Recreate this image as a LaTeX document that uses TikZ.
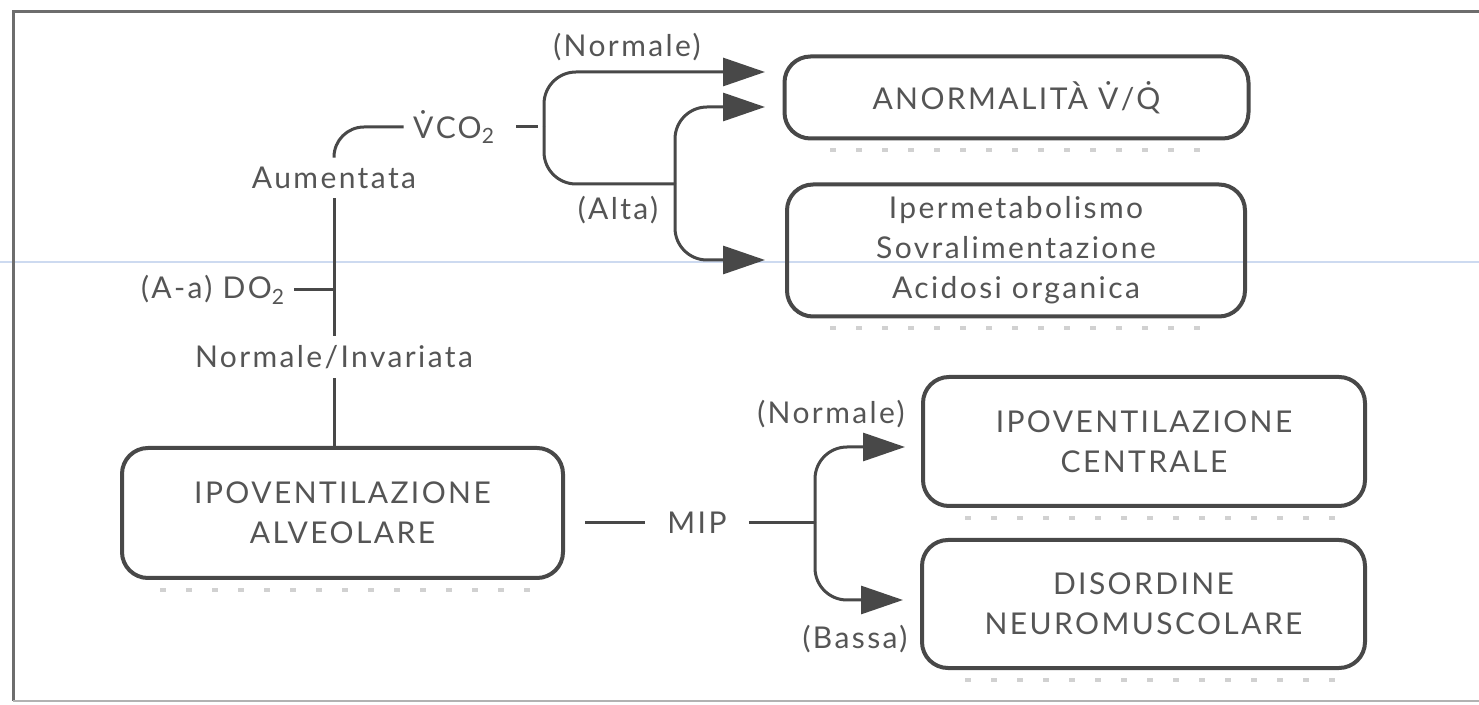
\documentclass[tikz,border=0pt]{standalone}
\usepackage{fontspec}
\setmainfont{Lato}[LetterSpace=8]
\usetikzlibrary{arrows.meta}
\definecolor{ink}{HTML}{484848}
\definecolor{txt}{HTML}{555555}
\definecolor{scan}{RGB}{205,218,240}
\begin{document}
\begin{tikzpicture}[x=0.5pt,y=-0.5pt,
  box/.style={draw=ink, line width=2pt, rounded corners=13pt, align=center,
    font=\fontsize{15}{20}\selectfont, text=txt, inner sep=0pt},
  lbl/.style={text=txt, font=\fontsize{15}{18}\selectfont, inner sep=4.5pt},
  conn/.style={draw=ink, line width=1.5pt},
  arr/.style={conn, rounded corners=16pt, -{Triangle[length=21pt,width=14pt]}},
  frameline/.style={draw=ink!80, line width=1.5pt},
  shadowline/.style={draw=black!18, line width=2pt, dash pattern=on 3pt off 10pt}]
\useasboundingbox (0,0) rectangle (1479,705);
\fill[white] (0,0) rectangle (1479,705);
% scan frame and artefacts
\draw[draw=scan, line width=0.6pt] (0,262) -- (1479,262);
\draw[frameline] (1479,12) -- (13,12) -- (13,701);
\draw[draw=black!30, line width=1pt] (13,701) -- (1479,701);
% shadows below boxes
\draw[shadowline] (830,150) -- (1215,150);
\draw[shadowline] (830,328) -- (1215,328);
\draw[shadowline] (160,590) -- (545,590);
\draw[shadowline] (965,518) -- (1335,518);
\draw[shadowline] (965,680) -- (1335,680);
% boxes
\node[box, minimum width=232pt, minimum height=41pt] (A) at (1016.5,97.5) {ANORMALITÀ \.{V}/\.{Q}};
\node[box, minimum width=229pt, minimum height=66pt] (B) at (1016,250.5) {Ipermetabolismo\\Sovralimentazione\\Acidosi organica};
\node[box, minimum width=220.5pt, minimum height=65pt] (C) at (342.5,513) {IPOVENTILAZIONE\\ALVEOLARE};
\node[box, minimum width=221pt, minimum height=64.5pt] (D) at (1144,441.5) {IPOVENTILAZIONE\\CENTRALE};
\node[box, minimum width=221.5pt, minimum height=64pt] (E) at (1143.5,604) {DISORDINE\\NEUROMUSCOLARE};
% labels
\node[lbl] (vco) at (454,127) {\.{V}CO\textsubscript{2}};
\node[lbl] (aum) at (334,178) {Aumentata};
\node[lbl] (dox) at (213,290) {(A-a) DO\textsubscript{2}};
\node[lbl] (norminv) at (334,357) {Normale/Invariata};
\node[lbl] (normA) at (627,47) {(Normale)};
\node[lbl] (alta) at (618,210) {(Alta)};
\node[lbl, inner xsep=11pt] (mip) at (697,523) {MIP};
\node[lbl] (normB) at (831,414) {(Normale)};
\node[lbl] (bassa) at (855,639) {(Bassa)};
% junctions and arrow ends
\coordinate (b1) at (544,127);
\coordinate (b2) at (675,184);
\coordinate (b3) at (815,523);
\coordinate (tA1) at (765,72);
\coordinate (tA2) at (765,107);
\coordinate (tB) at (765,260);
\coordinate (tD) at (905,447);
\coordinate (tE) at (903,600);
% connectors
\draw[conn] (norminv.south) -- (norminv.south |- C.north);
\draw[conn] (aum.south) -- (aum.south |- norminv.north);
\draw[conn] (dox.east) -- (dox.east -| aum.south);
\draw[conn, rounded corners=15pt] (aum.north) |- (vco.west);
\draw[conn] ([xshift=6pt]vco.east) -- ([xshift=-3pt]b1);
\draw[arr] (b1) |- (tA1);
\draw[conn, rounded corners=16pt] (b1) |- (b2);
\draw[arr] (b2) |- (tA2);
\draw[arr] (b2) |- (tB);
\draw[conn] ([xshift=10pt]C.east |- mip) -- (mip.west);
\draw[conn] (mip.east) -- (b3);
\draw[arr] (b3) |- (tD);
\draw[arr] (b3) |- (tE);
\end{tikzpicture}
\end{document}
